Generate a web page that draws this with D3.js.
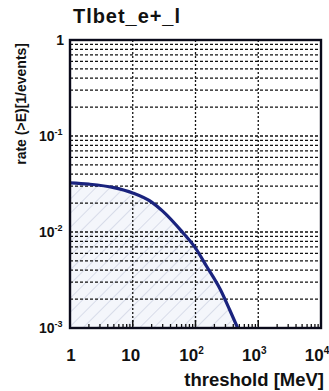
<!DOCTYPE html>
<html>
<head>
<meta charset="utf-8">
<script src="https://cdn.jsdelivr.net/npm/d3@7"></script>
<style>
  html, body { margin: 0; padding: 0; background: #fff; }
  svg { display: block; font-family: "Liberation Sans", Arial, sans-serif; font-weight: bold; }
</style>
</head>
<body>
<svg id="chart" width="329" height="391"></svg>
<script>
// Integral rate above threshold energy
const thresholds = [1, 2, 5, 10, 20, 30, 60, 100, 150, 250, 350, 470];
const rates = [0.0325, 0.0315, 0.029, 0.0255, 0.0205, 0.0165, 0.0102, 0.0068, 0.0044, 0.0025, 0.00155, 0.001];

const xTickValues = [1, 10, 100, 1000, 10000];
const xTickLabels = [["1", ""], ["10", ""], ["10", "2"], ["10", "3"], ["10", "4"]];
const yTickValues = [1, 0.1, 0.01, 0.001];
const yTickLabels = [["1", ""], ["10", "-1"], ["10", "-2"], ["10", "-3"]];

const titleText = "Tlbet_e+_l";
const xTitle = "threshold [MeV]";
const yTitle = "rate (>E)[1/events]";

const svg = d3.select("#chart");
const m = { left: 70, right: 321, top: 40, bottom: 328 };

const x = d3.scaleLog().domain([1, 10000]).range([m.left, m.right]);
const y = d3.scaleLog().domain([0.001, 1]).range([m.bottom, m.top]);

// hatch pattern for the area under the curve
const defs = svg.append("defs");
const pat = defs.append("pattern")
  .attr("id", "hatch").attr("patternUnits", "userSpaceOnUse")
  .attr("width", 10).attr("height", 10)
  .attr("patternTransform", "rotate(45)");
pat.append("rect").attr("width", 10).attr("height", 10).attr("fill", "#f4f6fb");
pat.append("line").attr("x1", 0).attr("y1", 0).attr("x2", 0).attr("y2", 10)
  .attr("stroke", "#bcc2d8").attr("stroke-width", 1);

defs.append("clipPath").attr("id", "plotclip")
  .append("rect").attr("x", m.left).attr("y", m.top)
  .attr("width", m.right - m.left).attr("height", m.bottom - m.top);

const pts = thresholds.map((e, i) => [e, rates[i]]);

// shaded area
const area = d3.area()
  .x(d => x(d[0])).y0(y(0.001)).y1(d => y(d[1]))
  .curve(d3.curveMonotoneX);
svg.append("path").datum(pts)
  .attr("clip-path", "url(#plotclip)")
  .attr("d", area).attr("fill", "url(#hatch)");

// grid: horizontal at every minor step, vertical at decades
const g = svg.append("g");
const yGrid = [];
for (let p = -3; p < 0; p++) for (let k = 1; k <= 9; k++) yGrid.push(k * Math.pow(10, p));
g.selectAll("line.hg").data(yGrid.filter(v => v > 0.001)).join("line")
  .attr("x1", m.left).attr("x2", m.right)
  .attr("y1", d => y(d)).attr("y2", d => y(d))
  .attr("stroke", "#111").attr("stroke-width", 1.3)
  .attr("stroke-dasharray", "3,2");
g.selectAll("line.vg").data([10, 100, 1000]).join("line")
  .attr("y1", m.top).attr("y2", m.bottom)
  .attr("x1", d => x(d)).attr("x2", d => x(d))
  .attr("stroke", "#111").attr("stroke-width", 1.3)
  .attr("stroke-dasharray", "2,2");

// minor ticks on the bottom axis
const xMinor = [];
for (let p = 0; p < 4; p++) for (let k = 2; k <= 9; k++) xMinor.push(k * Math.pow(10, p));
g.selectAll("line.xt").data(xMinor).join("line")
  .attr("x1", d => x(d)).attr("x2", d => x(d))
  .attr("y1", m.bottom).attr("y2", m.bottom - 4)
  .attr("stroke", "#111").attr("stroke-width", 1.3);
g.selectAll("line.xT").data([10, 100, 1000]).join("line")
  .attr("x1", d => x(d)).attr("x2", d => x(d))
  .attr("y1", m.bottom).attr("y2", m.bottom - 8)
  .attr("stroke", "#111").attr("stroke-width", 1.5);

// curve
const line = d3.line().x(d => x(d[0])).y(d => y(d[1])).curve(d3.curveMonotoneX);
svg.append("path").datum(pts)
  .attr("clip-path", "url(#plotclip)")
  .attr("d", line).attr("fill", "none")
  .attr("stroke", "#1a237e").attr("stroke-width", 3.2);

// frame
svg.append("rect").attr("x", m.left).attr("y", m.top)
  .attr("width", m.right - m.left).attr("height", m.bottom - m.top)
  .attr("fill", "none").attr("stroke", "#0a0a1a").attr("stroke-width", 2.4);

// tick labels
const xl = svg.append("g").attr("font-size", 17).attr("fill", "#111");
xTickValues.forEach((v, i) => {
  const [base, sup] = xTickLabels[i];
  const off = sup ? -4 : (base.length > 1 ? -2 : 1);
  const t = xl.append("text").attr("x", x(v) + off).attr("y", 361).attr("text-anchor", "middle");
  t.append("tspan").text(base);
  if (sup) t.append("tspan").attr("dy", -7).attr("font-size", 10).text(sup);
});
const yl = svg.append("g").attr("font-size", 14).attr("fill", "#111");
yTickValues.forEach((v, i) => {
  const [base, sup] = yTickLabels[i];
  const t = yl.append("text")
    .attr("x", sup ? 39 : 64).attr("y", y(v) + 5)
    .attr("text-anchor", sup ? "start" : "end");
  t.append("tspan").text(base);
  if (sup) t.append("tspan").attr("dy", -6).attr("font-size", 9).text(sup);
});

// titles
svg.append("text").attr("x", 73).attr("y", 23).attr("font-size", 20)
  .attr("textLength", 107).attr("lengthAdjust", "spacing")
  .attr("fill", "#111").text(titleText);
svg.append("text").attr("x", 324).attr("y", 386).attr("text-anchor", "end")
  .attr("font-size", 18.5).attr("fill", "#111").text(xTitle);
svg.append("text").attr("transform", "translate(26,43) rotate(-90)")
  .attr("text-anchor", "end").attr("font-size", 14).attr("fill", "#111").text(yTitle);
</script>
</body>
</html>
